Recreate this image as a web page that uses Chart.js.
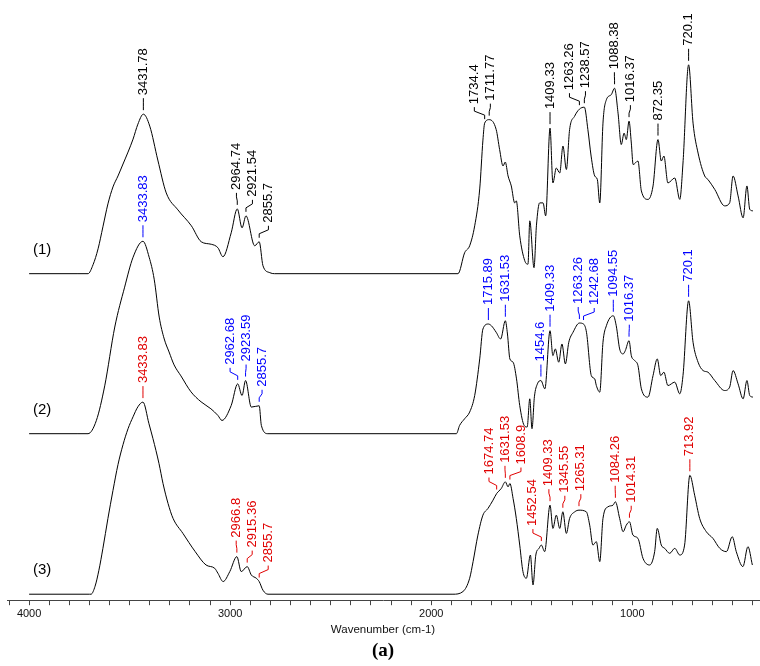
<!DOCTYPE html>
<html>
<head>
<meta charset="utf-8">
<title>FTIR spectra</title>
<script src="https://cdn.jsdelivr.net/npm/chart.js@4/dist/chart.umd.min.js"></script>
<style>
  html, body { margin: 0; padding: 0; background: #fff; }
  canvas { display: block; }
</style>
</head>
<body>
<canvas id="ftirChart" width="760" height="666"></canvas>
<script>
// each spectrum: [wavenumber, height above its own baseline]
const spectrum1 = [
  [4000,0],[3757,0],[3707,0],[3682,9],[3657,25],[3633,47],[3608,70],[3583,87],[3558,98],[3533,110],
  [3508,122],[3483,135],[3459,150],[3431.78,160],[3400,148],[3360,114],[3318,81],[3260,64],[3193,48],
  [3144,32],[3094,29.5],[3061,26],[3036,17],[2995,41],[2964.74,65],[2941,46],[2921.54,58],[2878,28],
  [2855.7,32],[2837,8],[2803,1],[2779,0],[1867,0],[1834,21],[1809,28],[1784,48],[1759,85],[1743,134],
  [1734.4,151],[1711.77,154.5],[1677,144.5],[1660,124.5],[1643,108],[1632,112],[1618,98],[1602,88],
  [1585,71],[1577,73],[1560,38],[1535,13],[1519,9.5],[1510,53],[1489,6],[1477,48],[1461,71],[1444,71],
  [1431,58],[1409.33,146],[1395,91],[1378,106],[1361,101],[1345,128],[1328,104.5],[1312,144.5],
  [1287,158],[1263.26,165],[1238.57,167],[1221,144.5],[1205,118],[1187,98],[1174,94.5],[1162,71],
  [1146,151],[1129,174.5],[1105,179.5],[1088.38,186],[1071,161],[1055,129.5],[1041,141],[1030,134.5],
  [1016.37,153],[1005,131],[996,109.5],[972,113],[955,83],[922,74.5],[897,88],[872.35,134.5],[856,113],
  [843,118],[823,91],[789,96],[764,74.5],[748,111],[720.1,209.5],[698,151],[673,121],[640,98],
  [624,94.5],[590,84.5],[541,68],[516,71],[499,98],[474,78],[449,56],[430,88],[416,64.5],[400,63]
];
const spectrum2 = [
  [4000,0],[3757,0],[3707,0],[3666,13],[3624,48],[3574,107],[3525,147],[3483,177],[3433.83,193],
  [3403,177],[3378,155],[3353,117],[3328,95],[3304,82],[3279,69],[3245,58],[3195,42],[3145,32],
  [3096,25],[3061,18.3],[3041,13.3],[2995,28.3],[2962.68,50],[2941,38.3],[2923.59,53.3],[2895,26.7],
  [2855.7,28],[2845,8.3],[2812,0],[1875,0],[1859,8.3],[1834,15],[1809,21.7],[1784,38.3],[1759,75],
  [1743,105],[1715.89,110],[1701,108.3],[1677,101.7],[1655,95],[1631.53,113.3],[1621,100],[1609,75],
  [1593,71.7],[1576,55],[1560,28.3],[1538,8.3],[1523,6.7],[1510,35],[1499,5],[1487,37],[1472,50],
  [1454.6,53.3],[1435,45],[1409.33,103.3],[1395,78.3],[1383,85],[1366,71.7],[1350,90],[1333,70],
  [1316,91.7],[1295,101.7],[1263.26,111],[1242.68,110],[1228,101.7],[1204,58.3],[1187,55],[1179,48.3],
  [1162,41.7],[1146,91.7],[1129,108.3],[1094.55,118.3],[1080,108.3],[1063,85],[1046,80],[1035,83.3],
  [1016.37,93.3],[1005,78.3],[988,73.3],[972,68.3],[955,45],[922,36.7],[897,58.3],[876,75],[859,58.3],
  [843,61.7],[823,48.3],[789,51.7],[764,40],[748,58.3],[720.1,133.3],[698,91.7],[673,71.7],[648,63.3],
  [624,61.7],[590,53.3],[541,43.3],[516,46.7],[499,63.3],[474,50],[449,35],[430,53.3],[416,38.3],[400,36.7]
];
const spectrum3 = [
  [4000,0],[3699,0],[3692,0],[3672,8],[3653,24],[3633,46],[3608,76],[3583,104],[3558,130],[3533,150],
  [3508,166],[3483,178],[3459,188],[3433.83,192.7],[3404,171],[3384,156],[3354,131],[3334,111],
  [3309,91],[3284,76],[3235,61],[3175,43],[3120,29.3],[3077,26],[3061,21],[3035,12.7],[3002,22.7],
  [2966.8,37.7],[2945,22.7],[2915.36,27.7],[2895,19.3],[2870,16],[2855.7,12.7],[2837,4],[2812,0],
  [1892,0],[1842,2.7],[1809,16],[1792,32.7],[1768,59.3],[1743,79.3],[1718,86],[1693,94.3],
  [1674.74,101],[1652,106],[1631.53,112.7],[1618,107.7],[1608.9,111],[1593,96],[1577,76],[1560,49.3],
  [1544,22.7],[1527,16],[1507,39.3],[1494,9.3],[1480,39.3],[1464,46],[1452.54,49.3],[1436,42.7],
  [1409.33,89.3],[1395,66],[1378,79.3],[1361,66],[1345.55,82.7],[1328,61],[1312,76],[1286,82.7],
  [1265.31,84.3],[1229,82.7],[1212,69.3],[1196,49.3],[1179,52.7],[1162,32.7],[1146,76],[1121,87.7],
  [1096,89.3],[1084.26,92.7],[1063,76],[1046,62.7],[1030,69.3],[1014.31,72.7],[997,59.3],[972,56],
  [947,36],[914,29.3],[889,42.7],[876,66],[856,49.3],[839,46],[814,41],[789,46],[764,39.3],[740,49.3],
  [713.92,119.3],[690,99.3],[665,76],[632,62.7],[599,56],[565,46],[532,42.7],[503,57.7],[483,42.7],
  [450,27.7],[425,47.7],[403,29.3]
];

// vertical stacking of the three spectra
const baselines = [327.5, 167, 6];
const sampleNames = ['(1)', '(2)', '(3)'];

// labelled peak positions (cm-1)
const peaks1 = [3431.78, 2964.74, 2921.54, 2855.7, 1734.4, 1711.77, 1409.33, 1263.26, 1238.57, 1088.38, 1016.37, 872.35, 720.1];
const peaks2 = [3433.83, 2962.68, 2923.59, 2855.7, 1715.89, 1631.53, 1454.6, 1409.33, 1263.26, 1242.68, 1094.55, 1016.37, 720.1];
const peaks3 = [3433.83, 2966.8, 2915.36, 2855.7, 1674.74, 1631.53, 1608.9, 1452.54, 1409.33, 1345.55, 1265.31, 1084.26, 1014.31, 713.92];
const peakColors = ['#000000', '#0000ff', '#e00000'];

const majorTicks = [4000, 3000, 2000, 1000];

const spectra = [spectrum1, spectrum2, spectrum3];
const peakLists = [peaks1, peaks2, peaks3];

const SANS = 'Arial, "Liberation Sans", sans-serif';

const minorTicks = [];
for (let v = 4100; v >= 400; v -= 100) minorTicks.push(v);

function heightAt(spectrum, w) {
  let best = spectrum[0];
  spectrum.forEach(p => { if (Math.abs(p[0] - w) < Math.abs(best[0] - w)) best = p; });
  return best[1];
}

// rotated peak labels with leader lines, pushed apart where they collide
const peakLabelPlugin = {
  id: 'peakLabels',
  afterDatasetsDraw(chart) {
    const ctx = chart.ctx;
    const xs = chart.scales.x, ys = chart.scales.y;
    ctx.save();
    ctx.font = '13px ' + SANS;

    peakLists.forEach((peaks, t) => {
      const items = peaks.map(w => {
        const px = xs.getPixelForValue(w);
        const py = ys.getPixelForValue(baselines[t] + heightAt(spectra[t], w));
        const text = String(w);
        const len = ctx.measureText(text).width;
        return { px, py, x: px, text, bottom: py - 19, top: py - 19 - len };
      });
      const order = items.slice().sort((a, b) => a.py - b.py);
      const gap = 16;
      for (let iter = 0; iter < 200; iter++) {
        let moved = false;
        for (let i = 0; i < order.length; i++) {
          for (let j = i + 1; j < order.length; j++) {
            const a = order[i], b = order[j];
            if (a.top >= b.bottom || b.top >= a.bottom) continue;
            const d = b.x - a.x;
            const over = gap - Math.abs(d);
            if (over > 0.05) {
              const dir = d !== 0 ? Math.sign(d) : (Math.sign(b.px - a.px) || 1);
              b.x += dir * over * 0.9;
              a.x -= dir * over * 0.1;
              moved = true;
            }
          }
        }
        if (!moved) break;
      }

      ctx.strokeStyle = peakColors[t];
      ctx.fillStyle = peakColors[t];
      ctx.lineWidth = 1;
      items.forEach(it => {
        ctx.beginPath();
        ctx.moveTo(it.px, it.py - 4);
        ctx.lineTo(it.px, it.py - 8);
        ctx.lineTo(it.x, it.py - 12);
        ctx.lineTo(it.x, it.py - 16);
        ctx.stroke();
        ctx.save();
        ctx.translate(it.x, it.py - 19);
        ctx.rotate(-Math.PI / 2);
        ctx.textAlign = 'left';
        ctx.textBaseline = 'middle';
        ctx.fillText(it.text, 0, 0);
        ctx.restore();
      });
    });

    // sample numbers next to each baseline
    ctx.fillStyle = '#000';
    ctx.font = '15px ' + SANS;
    ctx.textAlign = 'center';
    ctx.textBaseline = 'middle';
    sampleNames.forEach((name, t) => {
      ctx.fillText(name, xs.getPixelForValue(3935), ys.getPixelForValue(baselines[t] + 24));
    });
    ctx.restore();
  }
};

new Chart(document.getElementById('ftirChart'), {
  type: 'line',
  data: {
    datasets: spectra.map((s, t) => ({
      label: sampleNames[t],
      data: s.map(p => ({ x: p[0], y: baselines[t] + p[1] })),
      borderColor: '#000',
      borderWidth: 1,
      pointRadius: 0,
      fill: false,
      cubicInterpolationMode: 'monotone'
    }))
  },
  options: {
    responsive: false,
    animation: false,
    devicePixelRatio: 1,
    layout: { padding: { left: 7, right: 1, top: 2, bottom: 4 } },
    plugins: {
      legend: { display: false },
      tooltip: { enabled: false },
      title: {
        display: true,
        position: 'bottom',
        text: '(a)',
        color: '#000',
        font: { family: '"Palatino Linotype", Palatino, "Liberation Serif", "DejaVu Serif", serif', size: 19, weight: 'bold' },
        padding: { top: 2, bottom: 0 }
      }
    },
    scales: {
      x: {
        type: 'linear',
        reverse: true,
        min: 370,
        max: 4110,
        afterBuildTicks: scale => { scale.ticks = minorTicks.map(v => ({ value: v })); },
        ticks: {
          autoSkip: false,
          maxRotation: 0,
          padding: 2,
          color: '#111',
          font: { family: SANS, size: 11 },
          callback: v => majorTicks.includes(v) ? String(v) : ''
        },
        grid: { drawOnChartArea: false, drawTicks: true, tickLength: 5, color: '#444' },
        border: { display: true, color: '#444', width: 1 },
        title: {
          display: true,
          text: 'Wavenumber (cm-1)',
          color: '#111',
          font: { family: SANS, size: 11.5 },
          padding: { top: 1, bottom: 0 }
        }
      },
      y: { display: false, min: 0, max: 600 }
    }
  },
  plugins: [peakLabelPlugin]
});
</script>
</body>
</html>
